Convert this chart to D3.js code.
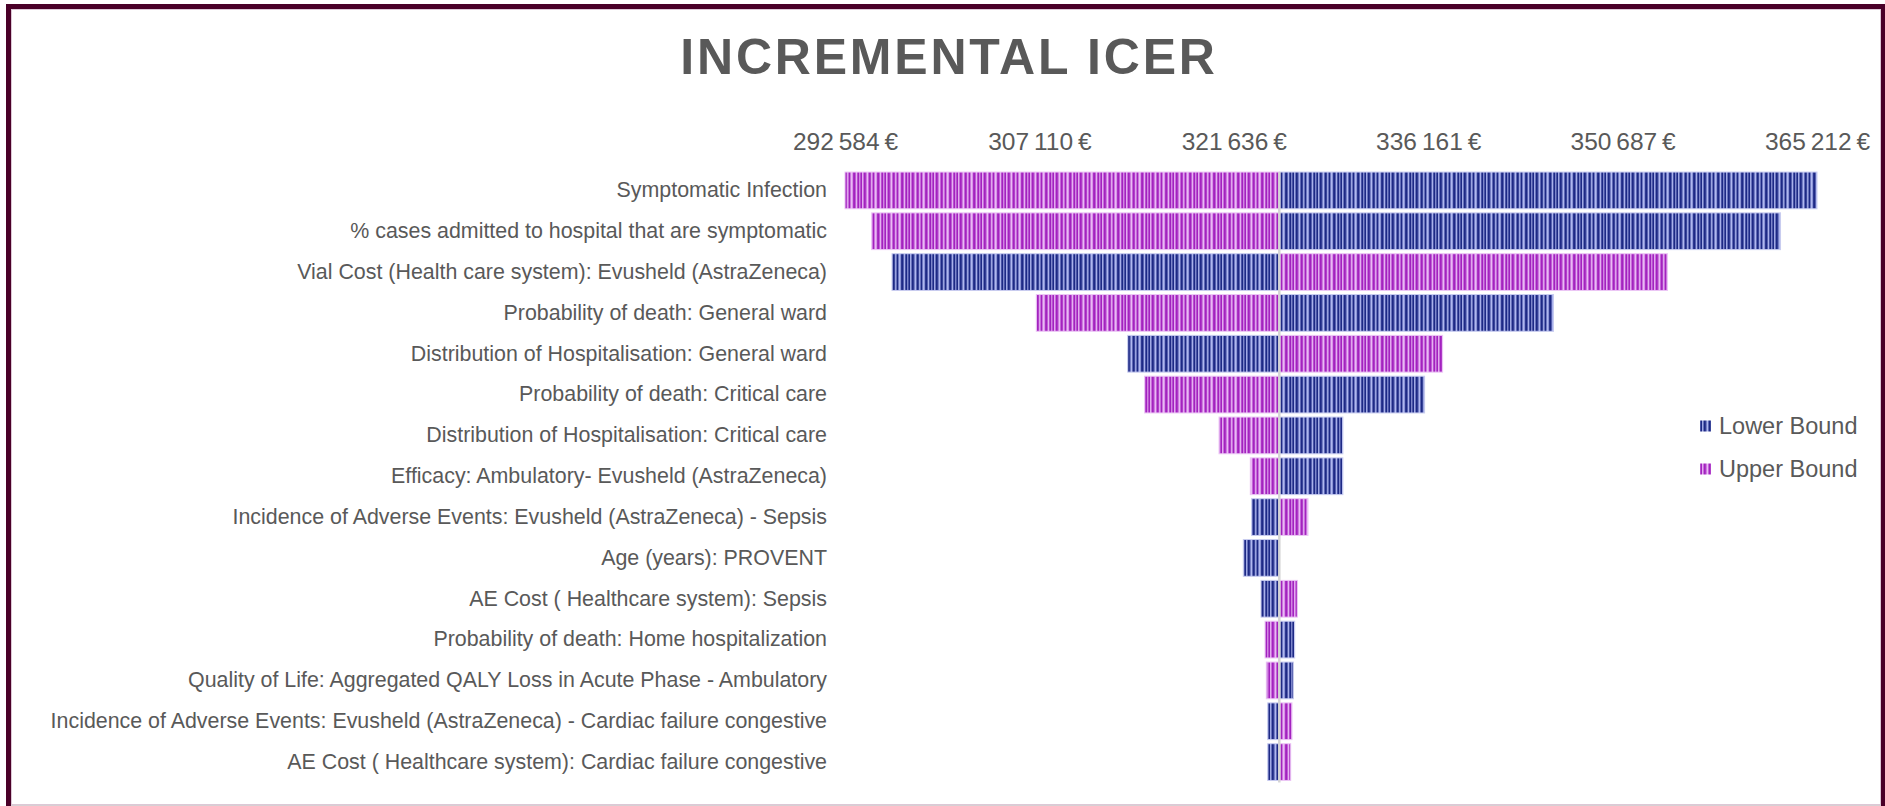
<!DOCTYPE html>
<html>
<head>
<meta charset="utf-8">
<script src="https://cdn.jsdelivr.net/npm/d3@7"></script>
<style>
  html, body { margin: 0; padding: 0; background: #ffffff; }
  svg { display: block; font-family: "Liberation Sans", Arial, sans-serif; }
</style>
</head>
<body>
<svg id="chart" width="1885" height="806"></svg>
<script>
// ---------------- DATA ----------------
const title = "INCREMENTAL ICER";
const categories = [
  "Symptomatic Infection",
  "% cases admitted to hospital that are symptomatic",
  "Vial Cost (Health care system): Evusheld (AstraZeneca)",
  "Probability of death: General ward",
  "Distribution of Hospitalisation: General ward",
  "Probability of death: Critical care",
  "Distribution of Hospitalisation: Critical care",
  "Efficacy: Ambulatory- Evusheld (AstraZeneca)",
  "Incidence of Adverse Events: Evusheld (AstraZeneca) - Sepsis",
  "Age (years): PROVENT",
  "AE Cost ( Healthcare system): Sepsis",
  "Probability of death: Home hospitalization",
  "Quality of Life: Aggregated QALY Loss in Acute Phase - Ambulatory",
  "Incidence of Adverse Events: Evusheld (AstraZeneca) - Cardiac failure congestive",
  "AE Cost ( Healthcare system): Cardiac failure congestive"
];
const baseICER = 325036;
const lowerBound = [365212, 362487, 296096, 345524, 313708, 335893, 329788, 329788, 322958, 322346, 323668, 326186, 326082, 324169, 324169];
const upperBound = [292584, 294572, 354043, 306878, 337238, 314963, 320530, 322869, 327180, 325036, 326381, 323967, 324064, 325985, 325887];
const tickValues = [292584, 307110, 321636, 336161, 350687, 365212];
const tickLabels = ["292\u2009584\u2009€", "307\u2009110\u2009€", "321\u2009636\u2009€", "336\u2009161\u2009€", "350\u2009687\u2009€", "365\u2009212\u2009€"];
const seriesNames = ["Lower Bound", "Upper Bound"];

// ---------------- CHART ----------------
const svg = d3.select("#chart");
const textColor = "#595959";

const x = d3.scaleLinear().domain([tickValues[0], tickValues[tickValues.length - 1]]).range([845, 1817]);
const y = d3.scaleBand().domain(categories).range([170, 782.5]).paddingInner(0.1).paddingOuter(0.05);

// stripe patterns
const defs = svg.append("defs");
const stripeSeq = [0, 0.15, 0.6, 1, 0.45, 0, 0.2, 0.85, 0.5, 0, 0.55, 1, 0.75, 0.1, 0, 0.4, 0.95, 0.3, 0, 0.65, 0.3, 0, 0.9, 0.5];
function makePattern(id, dark, light) {
  const p = defs.append("pattern").attr("id", id).attr("patternUnits", "userSpaceOnUse")
    .attr("width", stripeSeq.length).attr("height", 10);
  const interp = d3.interpolateRgb(dark, light);
  p.selectAll("rect").data(stripeSeq).join("rect")
    .attr("x", (d, i) => i).attr("y", 0).attr("width", 1).attr("height", 10)
    .attr("fill", d => interp(d));
}
makePattern("blueStripe", "#1d2985", "#b0b8f0");
makePattern("purpleStripe", "#a322bf", "#eabaf5");

const fills = { lower: "url(#blueStripe)", upper: "url(#purpleStripe)" };
const strokes = { lower: "#c9cdf0", upper: "#ecc6f5" };

// frame
svg.append("rect").attr("x", 8.5).attr("y", 6.5).attr("width", 1875).attr("height", 806)
  .attr("fill", "none").attr("stroke", "#4a0028").attr("stroke-width", 5);
svg.append("rect").attr("x", 11.5).attr("y", 9.5).attr("width", 1869).attr("height", 795)
  .attr("fill", "none").attr("stroke", "#dcc8d6").attr("stroke-width", 1);
svg.append("line").attr("x1", 11).attr("x2", 1881).attr("y1", 805.5).attr("y2", 805.5)
  .attr("stroke", "#d6d0d3").attr("stroke-width", 1);

// title
svg.append("text").attr("x", 949).attr("y", 74).attr("text-anchor", "middle")
  .attr("font-size", 50).attr("font-weight", "bold").attr("letter-spacing", "2.8px")
  .attr("fill", textColor).text(title);

// top axis
const axis = d3.axisTop(x).tickValues(tickValues).tickSize(0).tickPadding(0)
  .tickFormat((d, i) => tickLabels[i]);
const gAxis = svg.append("g").attr("transform", "translate(0,150)").call(axis);
gAxis.select(".domain").remove();
gAxis.selectAll("text").attr("font-size", 24.5).attr("fill", textColor)
  .attr("font-family", "Liberation Sans, Arial, sans-serif");

// bars
const rows = categories.map((c, i) => ({ cat: c, lower: lowerBound[i], upper: upperBound[i] }));
const barData = [];
rows.forEach(r => {
  barData.push({ cat: r.cat, key: "lower", v: r.lower });
  barData.push({ cat: r.cat, key: "upper", v: r.upper });
});
svg.append("g").selectAll("rect").data(barData.filter(d => d.v !== baseICER)).join("rect")
  .attr("x", d => x(Math.min(d.v, baseICER)))
  .attr("y", d => y(d.cat))
  .attr("width", d => Math.abs(x(d.v) - x(baseICER)))
  .attr("height", y.bandwidth())
  .attr("fill", d => fills[d.key])
  .attr("stroke", d => strokes[d.key]).attr("stroke-width", 1);

// base line
svg.append("line").attr("x1", x(baseICER)).attr("x2", x(baseICER))
  .attr("y1", y(categories[0])).attr("y2", y(categories[categories.length - 1]) + y.bandwidth() + 2)
  .attr("stroke", "#d4d4d4").attr("stroke-width", 2.5);

// category labels
const yAxis = d3.axisLeft(y).tickSize(0).tickPadding(0);
const gY = svg.append("g").attr("transform", "translate(827,0)").call(yAxis);
gY.select(".domain").remove();
gY.selectAll("text").attr("font-size", 21.4).attr("fill", textColor)
  .attr("font-family", "Liberation Sans, Arial, sans-serif");

// legend
const legend = svg.append("g");
const legItems = [{ name: seriesNames[0], key: "lower" }, { name: seriesNames[1], key: "upper" }];
const legY = d3.scalePoint().domain(seriesNames).range([426, 469]);
legItems.forEach(it => {
  legend.append("rect").attr("x", 1700).attr("y", legY(it.name) - 5.5).attr("width", 11).attr("height", 11)
    .attr("fill", fills[it.key]);
  legend.append("text").attr("x", 1719).attr("y", legY(it.name)).attr("dy", "0.35em")
    .attr("font-size", 23.5).attr("fill", textColor).text(it.name);
});
</script>
</body>
</html>
